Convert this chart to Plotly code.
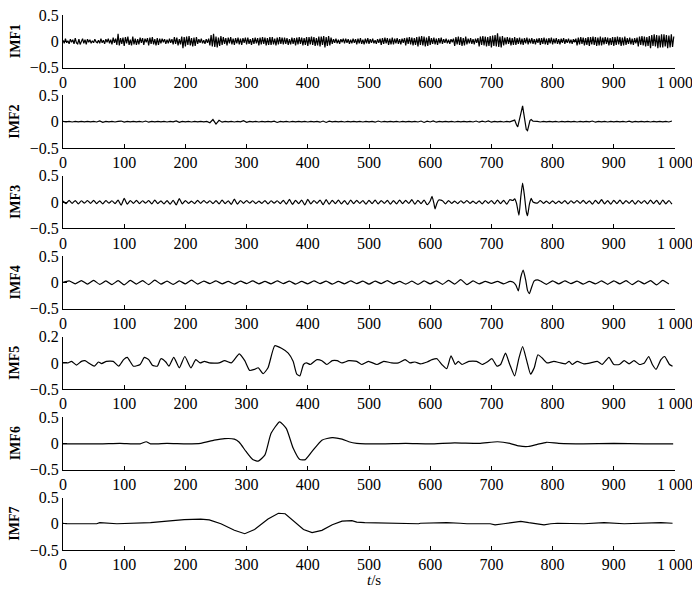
import plotly.graph_objects as go

# ---------------- data ----------------
labels = ["IMF1", "IMF2", "IMF3", "IMF4", "IMF5", "IMF6", "IMF7"]
x_tick_vals = [0, 100, 200, 300, 400, 500, 600, 700, 800, 900, 1000]
x_tick_text = ["0", "100", "200", "300", "400", "500", "600", "700", "800", "900", "1 000"]

# IMF1: samples every 2 s, values in hundredths
t1 = list(range(0, 1000, 2))
v1_c = [
    2, -4, 5, -3, 1, -5, 4, -2, 3, -5,
    6, -3, -5, 4, -6, 2, 5, -4, 3, -6,
    4, -2, 3, -4, 1, -3, 4, -1, -3, 2,
    -4, 5, -3, 2, -5, 4, -2, 5, -4, 3,
    -6, 7, -3, 5, -7, 14, -8, 6, -5, 7,
    -9, 8, -4, 9, -7, 3, -8, 9, -6, 5,
    -7, 4, -6, 7, -3, 6, -7, 5, -2, 6,
    -8, 7, -5, 8, -6, 4, -8, 6, -7, 5,
    -4, 5, -2, 4, -5, 3, -4, 5, -3, 4,
    -6, 8, -5, 7, -8, 4, -6, 9, -13, 8,
    -10, 9, -7, 10, -8, 6, -10, 7, -9, 8,
    -5, 4, -3, 5, -4, 2, -5, 4, -3, 5,
    -8, 12, -10, 14, -11, 9, -12, 7, -9, 10,
    -7, 8, -5, 6, -8, 7, -4, 8, -6, 5,
    -7, 6, -4, 7, -6, 5, -7, 6, -3, 7,
    -6, 7, -5, 4, -7, 6, -5, 7, -4, 6,
    -8, 7, -6, 8, -5, 7, -8, 6, -7, 8,
    -7, 8, -6, 5, -8, 7, -6, 8, -5, 7,
    -6, 7, -5, 6, -7, 4, -6, 7, -5, 6,
    -8, 7, -6, 8, -5, 7, -8, 6, -7, 8,
    -9, 8, -6, 9, -7, 8, -9, 6, -8, 9,
    -10, 9, -7, 10, -12, 8, -9, 10, -8, 7,
    -5, 4, -3, 5, -4, 3, -5, 4, -2, 5,
    -4, 5, -3, 4, -5, 3, -4, 5, -3, 4,
    -6, 5, -4, 6, -5, 3, -6, 5, -4, 6,
    -5, 4, -3, 5, -4, 2, -5, 4, -3, 5,
    -7, 6, -5, 7, -4, 6, -7, 5, -6, 7,
    -6, 5, -4, 6, -5, 4, -6, 5, -3, 6,
    -8, 7, -5, 8, -6, 7, -8, 6, -7, 8,
    -10, 9, -7, 10, -8, 9, -10, 7, -9, 10,
    -7, 6, -5, 7, -6, 5, -7, 6, -4, 7,
    -5, 4, -3, 5, -4, 3, -5, 4, -2, 5,
    -9, 8, -6, 9, -7, 8, -9, 6, -8, 9,
    -6, 5, -4, 6, -5, 4, -6, 5, -3, 6,
    -10, 9, -7, 10, -8, 9, -10, 8, -9, 10,
    -12, 11, -9, 12, -10, 15, -11, 9, -12, 10,
    -8, 7, -6, 8, -5, 7, -8, 6, -7, 8,
    -7, 6, -5, 7, -6, 5, -7, 6, -4, 7,
    -6, 5, -4, 6, -5, 4, -6, 5, -3, 6,
    -7, 6, -5, 7, -6, 5, -7, 6, -4, 7,
    -6, 5, -4, 6, -5, 4, -6, 5, -3, 6,
    -5, 4, -3, 5, -4, 3, -5, 4, -2, 5,
    -8, 7, -6, 8, -5, 7, -8, 6, -7, 8,
    -9, 8, -6, 9, -7, 8, -9, 7, -8, 9,
    -8, 7, -6, 8, -5, 7, -8, 6, -7, 8,
    -9, 8, -7, 9, -6, 8, -9, 7, -8, 9,
    -7, 6, -5, 7, -6, 5, -7, 6, -4, 7,
    -10, 9, -7, 10, -8, 9, -10, 8, -9, 10,
    -13, 12, -9, 13, -10, 12, -13, 11, -12, 13,
    -12, 13, -10, 12, -13, 11, -12, 13, -11, 9,
]

# IMF2: base every 5 s (thousandths) + burst near 750 s
t2_base = list(range(0, 1000, 5))
v2_base_m = [
    5, -5, 4, -6, 5, -4, 6, -5, 4, -5,
    5, -6, 15, -12, 6, -5, 4, -6, 5, 12,
    -8, 5, -4, 6, -5, 5, -6, 12, -10, 5,
    -5, 6, -4, 5, -6, 5, -5, 15, -14, 6,
    -5, 4, -6, 5, -4, 6, -5, 5, -20, 40,
    -45, 25, -10, 6, -5, 4, -6, 5, -5, 18,
    -12, 6, -5, 4, -6, 5, -4, 6, -5, 10,
    -15, 6, -5, 4, -6, 5, -4, 6, -5, 4,
    -6, 5, -4, 6, -10, 12, -15, 8, -5, 6,
    -5, 4, -6, 5, -4, 6, -5, 4, -6, 5,
    -4, 6, -10, 12, -6, 5, -4, 6, -5, 4,
    -6, 5, -4, 6, -5, 4, -6, 12, -15, 10,
    -6, 14, -10, 5, -4, 6, -5, 4, -6, 5,
    -4, 6, -5, 4, -6, 12, -10, 8, -6, 14,
    -10, 6, -5, 4, -6, 5, -4, 6, -5, 4,
    -6, 5, -4, 6, -5, 4, -6, 5, -4, 6,
    -5, 4, -6, 5, -4, 6, -5, 4, -6, 5,
    -4, 6, -5, 12, -10, 6, -5, 4, -6, 5,
    -4, 6, -5, 4, -6, 10, -8, 5, -4, 6,
    -5, 4, -6, 5, -4, 6, -5, 4, -6, 12,
]
t2_burst = [735, 738, 741, 743, 746, 749, 751, 753, 755, 757, 759, 761, 763, 765, 768]
v2_burst = [0.01, 0.03, -0.06, -0.10, 0.05, 0.22, 0.30, 0.15, -0.05, -0.15, -0.17, -0.08, 0.02, 0.04, 0.01]

# IMF3: base every 5 s (thousandths) + bursts near 605 s and 750 s
t3_base = list(range(0, 1000, 5))
v3_base_m = [
    20, -30, 35, -25, 30, -35, 25, -20, 30, -25,
    35, -30, 25, -35, 30, -20, 25, -30, 40, -60,
    70, -40, 30, -25, 35, -30, 25, -20, 30, -35,
    40, -30, 25, -35, 30, -40, 35, -55, 65, -35,
    30, -25, 20, -30, 35, -25, 30, -20, 25, -30,
    30, -35, 40, -30, 25, -45, 55, -40, 30, -25,
    30, -20, 25, -30, 20, -25, 30, -35, 25, -20,
    25, -30, 35, -40, 50, -45, 35, -30, 40, -55,
    50, -35, 30, -25, 40, -50, 45, -40, 35, -30,
    40, -35, 30, -45, 40, -30, 35, -25, 30, -40,
    35, -30, 40, -35, 30, -25, 35, -40, 30, -35,
    40, -30, 35, -25, 45, -40, 35, -30, 40, -50,
    20, -30, 20, -30, 25, -35, 30, -25, 20, -30,
    25, -20, 30, -25, 20, -30, 25, -35, 30, -25,
    30, -35, 40, -30, 35, -40, 45, -50, 30, -20,
    30, -20, 30, -30, 25, -20, 30, -25, 20, -30,
    25, -30, 20, -25, 30, -35, 25, -20, 30, -25,
    35, -30, 25, -40, 35, -30, 45, -35, 30, -40,
    35, -30, 40, -35, 30, -25, 35, -40, 30, -25,
    30, -35, 40, -30, 35, -45, 40, -35, 30, -40,
]
t3_burst = [600, 603, 606, 608, 611, 614,
            735, 738, 741, 745, 748, 751, 754, 757, 759, 762, 765, 768]
v3_burst = [0.02, 0.11, -0.02, -0.13, -0.02, 0.04,
            0.03, 0.06, -0.02, -0.25, 0.10, 0.36, 0.12, -0.18, -0.26, -0.05, 0.07, 0.00]

# IMF4: base every 10 s (thousandths) + burst near 750 s
t4_base = list(range(0, 1000, 10))
v4_base_m = [
    0, 30, -25, 35, -30, 40, -35, 30, -40, 35,
    -45, 40, -30, 35, -40, 45, -30, 25, -35, 30,
    -25, 45, -30, 25, -20, 30, -25, 20, -30, 25,
    -20, 30, -25, 20, -25, 30, -20, 25, -30, 20,
    -25, 30, -20, 25, -30, 20, -25, 30, -20, 25,
    -30, 25, -20, 35, -25, 20, -30, 25, -35, 30,
    -25, 30, -35, 40, -30, 55, -40, 30, -25, 20,
    -15, 20, -25, 20, 0, 0, 0, 0, 30, -35,
    30, -25, 30, -20, 25, -30, 20, -25, 30, -35,
    30, -25, 35, -40, 30, -25, 35, -45, 40, -30,
]
t4_burst = [735, 740, 744, 748, 752, 756, 759, 762, 766, 770, 775]
v4_burst = [0.01, -0.05, -0.16, 0.10, 0.235, 0.05, -0.15, -0.21, -0.08, 0.03, 0.05]

# IMF5 (axis drawn 0.2 .. -0.2 scale, bottom tick printed as -0.5)
t5 = [0, 8, 14, 22, 30, 36, 44, 51, 58, 63, 71, 82, 91, 99, 105, 115, 126, 133, 140, 146,
      154, 160, 168, 173, 181, 190, 199, 209, 217, 224, 231, 239, 255, 264, 275, 280, 288, 297, 305, 313,
      319, 327, 335, 346, 357, 368, 376, 382, 387, 393, 398, 404, 415, 423, 431, 440, 448, 456, 467, 480,
      488, 499, 513, 524, 537, 548, 559, 567, 575, 584, 595, 603, 611, 619, 627, 634, 641, 646, 652, 663,
      676, 685, 693, 701, 709, 715, 723, 730, 738, 745, 751, 758, 764, 770, 776, 783, 791, 802, 813, 821,
      827, 832, 840, 851, 862, 873, 881, 892, 900, 909, 917, 925, 933, 942, 950, 957, 963, 969, 977, 983,
      991, 996]
v5 = [0, 0, 0.012, -0.017, 0.012, 0.017, -0.007, -0.025, 0.007, -0.005, 0.012, 0.012, -0.025, 0.025, 0.042, -0.025, -0.012, 0.042, 0.025, -0.017,
      -0.025, 0.032, 0.007, -0.025, 0.042, -0.037, 0.049, -0.037, 0.025, 0, 0.012, 0, 0, 0.017, 0, 0.025, 0.069, 0.017, -0.057, -0.049,
      -0.037, -0.082, -0.037, 0.131, 0.111, 0.074, 0.012, -0.086, -0.099, -0.012, 0, -0.012, 0.025, 0.017, -0.012, 0.017, 0.017, 0, 0.017, 0.012,
      -0.012, 0.012, -0.012, 0.012, 0, 0, 0.025, 0, 0.007, -0.007, 0.007, 0.025, 0.032, -0.012, -0.044, 0.054, -0.012, 0.012, -0.012, 0.012,
      0.012, -0.012, 0.007, 0.032, -0.025, -0.012, 0.074, -0.012, -0.099, 0.037, 0.124, 0.012, -0.086, -0.037, 0.062, 0.037, 0, 0.012, 0, -0.007,
      0.012, -0.012, 0.012, -0.007, 0, 0.012, -0.012, 0.042, -0.012, -0.012, 0.017, -0.007, 0.017, -0.012, 0, 0.049, -0.012, -0.049, 0.025, 0.049,
      -0.012, -0.025]

# IMF6
t6 = [0, 60, 93, 126, 136, 143, 170, 203, 225, 247, 264, 280, 288, 299, 310, 319, 330, 340, 354, 365,
      376, 387, 396, 407, 423, 440, 456, 467, 480, 520, 560, 600, 640, 680, 710, 730, 745, 760, 775, 790,
      810, 850, 900, 950, 997]
v6 = [-0.01, -0.01, 0, -0.01, 0.03, -0.01, 0, -0.01, 0, 0.06, 0.09, 0.08, 0.02, -0.155, -0.31, -0.34, -0.22, 0.19, 0.41, 0.28,
      -0.09, -0.31, -0.31, -0.155, 0.06, 0.11, 0.08, 0.03, 0.0, -0.01, 0, -0.01, 0.01, 0, 0.03, 0.0, -0.05, -0.06, -0.02, 0.02,
      0, -0.01, 0, -0.01, -0.01]

# IMF7
t7 = [0, 5, 55, 60, 88, 143, 170, 198, 225, 239, 258, 280, 297, 313, 335, 352, 363, 379, 393, 407,
      423, 440, 456, 472, 480, 493, 523, 581, 584, 627, 649, 660, 698, 706, 720, 731, 748, 761, 775, 786,
      797, 808, 851, 884, 917, 977, 996]
v7 = [0.01, 0, 0, 0.02, 0, 0.02, 0.05, 0.08, 0.09, 0.075, 0, -0.125, -0.19, -0.11, 0.09, 0.2, 0.19, 0.03, -0.11, -0.17,
      -0.125, -0.02, 0.05, 0.06, 0.03, 0.02, 0.01, 0, 0.01, 0.02, 0.01, 0, 0, -0.02, 0, 0.02, 0.045, 0.02, -0.01, -0.02,
      0, 0.01, 0, 0.02, 0, 0.02, 0.01]


# ---------------- assemble ----------------
def merge(bt, bv, scale, windows, tb, vb):
    pts = [(t, v * scale) for t, v in zip(bt, bv)
           if not any(lo <= t <= hi for lo, hi in windows)]
    pts += list(zip(tb, vb))
    pts.sort()
    return [p[0] for p in pts], [p[1] for p in pts]


x1, y1 = t1, [v * 0.01 for v in v1_c]
x2, y2 = merge(t2_base, v2_base_m, 0.001, [(733, 770)], t2_burst, v2_burst)
x3, y3 = merge(t3_base, v3_base_m, 0.001, [(597, 616), (733, 770)], t3_burst, v3_burst)
x4, y4 = merge(t4_base, v4_base_m, 0.001, [(733, 777)], t4_burst, v4_burst)

series = [
    (x1, y1, "linear"),
    (x2, y2, "linear"),
    (x3, y3, "spline"),
    (x4, y4, "spline"),
    (t5, v5, "spline"),
    (t6, v6, "spline"),
    (t7, v7, "linear"),
]

FONT = "Liberation Serif"
# the page body adds an 8 px offset; the figure is sized so the visible
# window (700x589) matches the reference layout
OFF = 8
W, H = 700 - OFF, 589 - OFF
M_L, M_R, M_T, M_B = 63 - OFF, 25, 15 - OFF, 39
plot_w = W - M_L - M_R
plot_h = H - M_T - M_B
panel_h = 52.5
step = (plot_h - panel_h) / 6

fig = go.Figure()
layout = dict(
    width=W, height=H,
    margin=dict(l=M_L, r=M_R, t=M_T, b=M_B, autoexpand=False),
    paper_bgcolor="white", plot_bgcolor="white",
    showlegend=False,
    font=dict(family=FONT, size=16, color="black"),
)
annotations = []

for i, (xs, ys, shape) in enumerate(series):
    n = i + 1
    sfx = "" if n == 1 else str(n)
    fig.add_trace(go.Scatter(
        x=xs, y=ys, mode="lines",
        line=dict(color="black", width=1.2, shape=shape, smoothing=0.5),
        xaxis="x" + sfx, yaxis="y" + sfx, hoverinfo="skip",
    ))
    top_px = M_T + step * i
    bot_px = top_px + panel_h
    d0 = (H - M_B - bot_px) / plot_h
    d1 = (H - M_B - top_px) / plot_h
    layout["xaxis" + sfx] = dict(
        domain=[0, 1], anchor="y" + sfx, range=[0, 1000],
        tickmode="array", tickvals=x_tick_vals, ticktext=x_tick_text,
        ticks="inside", ticklen=4, tickwidth=1, tickcolor="black",
        showline=True, linecolor="black", linewidth=1,
        showgrid=False, zeroline=False, automargin=False,
        ticklabeloverflow="allow",
        tickfont=dict(family=FONT, size=16, color="black"),
    )
    if n == 5:
        yr, yv, yt = [-0.2, 0.2], [-0.2, 0, 0.2], ["\u22120.5", "0", "0.2"]
    else:
        yr, yv, yt = [-0.5, 0.5], [-0.5, 0, 0.5], ["\u22120.5", "0", "0.5"]
    layout["yaxis" + sfx] = dict(
        domain=[d0, d1], anchor="x" + sfx, range=yr,
        tickmode="array", tickvals=yv, ticktext=yt,
        ticks="inside", ticklen=4, tickwidth=1, tickcolor="black",
        showline=True, linecolor="black", linewidth=1,
        showgrid=False, zeroline=False, automargin=False,
        ticklabeloverflow="allow",
        tickfont=dict(family=FONT, size=16, color="black"),
    )
    annotations.append(dict(
        text="<b>" + labels[i] + "</b>", xref="paper", yref="paper",
        x=(15 - OFF - M_L) / plot_w, y=(d0 + d1) / 2,
        xanchor="center", yanchor="middle", textangle=-90, showarrow=False,
        font=dict(family=FONT, size=14, color="black"),
    ))

annotations.append(dict(
    text="<i>t</i>/s", xref="paper", yref="paper",
    x=(374 - OFF - M_L) / plot_w, y=(H - M_B - (580 - OFF)) / plot_h,
    xanchor="center", yanchor="middle", showarrow=False,
    font=dict(family=FONT, size=15, color="black"),
))
layout["annotations"] = annotations
fig.update_layout(**layout)

fig.write_html("out.html")
